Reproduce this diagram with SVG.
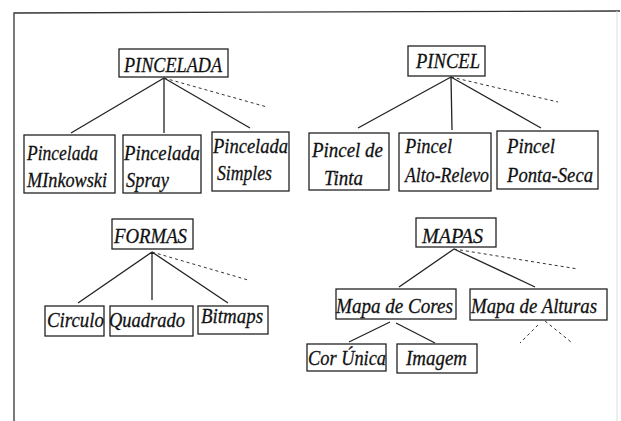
<svg xmlns="http://www.w3.org/2000/svg" width="621" height="421" viewBox="0 0 621 421">
<style>
.bg{fill:#fff}
.frame{fill:none;stroke:#333;stroke-width:1.3}
.frame2{fill:none;stroke:#ddd;stroke-width:1}
.box{fill:#fff;stroke:#222;stroke-width:1.3}
.t{font-family:"Times New Roman","Liberation Serif",Tinos,"DejaVu Serif",serif;font-style:italic;font-size:22px;fill:#111;stroke:#111;stroke-width:0.3}
.edge{stroke:#222;stroke-width:1.3;fill:none}
.dash{stroke:#333;stroke-width:1;stroke-dasharray:3 3;fill:none}
</style>
<rect class="bg" width="621" height="421"/>
<g id="frame">
<path class="frame" d="M14,421 L14,13 L620,11"/>
<path class="frame2" d="M617,11 L617,421"/>
</g>
<g id="connectors">
<path class="edge" d="M164,78 L71,133 M164,78 L164,133 M164,78 L250,128"/>
<path class="dash" d="M164,78 L267,107"/>
<path class="edge" d="M451,77 L358,128 M451,77 L452,130 M451,77 L541,128"/>
<path class="dash" d="M451,77 L558,102"/>
<path class="edge" d="M152,252 L78,303 M152,252 L152,300 M152,252 L228,303"/>
<path class="dash" d="M152,252 L248,280"/>
<path class="edge" d="M454,249 L399,287 M454,249 L535,287"/>
<path class="dash" d="M454,249 L578,269"/>
<path class="edge" d="M390,322 L349,342 M396,323 L435,343"/>
<path class="dash" d="M538,325 L520,343 M545,321 L571,342"/>
</g>
<g id="pincelada"><rect class="box" x="119" y="49" width="109" height="28"/><text class="t" x="124" y="72" textLength="98" lengthAdjust="spacingAndGlyphs">PINCELADA</text></g>
<g id="pincelada-minkowski"><rect class="box" x="24" y="135" width="91" height="58"/><text class="t" x="27" y="160" textLength="71" lengthAdjust="spacingAndGlyphs">Pincelada</text><text class="t" x="27" y="187" textLength="80" lengthAdjust="spacingAndGlyphs">MInkowski</text></g>
<g id="pincelada-spray"><rect class="box" x="123" y="135" width="78" height="58"/><text class="t" x="124" y="160" textLength="76" lengthAdjust="spacingAndGlyphs">Pincelada</text><text class="t" x="126" y="187" textLength="43" lengthAdjust="spacingAndGlyphs">Spray</text></g>
<g id="pincelada-simples"><rect class="box" x="212" y="132" width="77" height="59"/><text class="t" x="213" y="153" textLength="75" lengthAdjust="spacingAndGlyphs">Pincelada</text><text class="t" x="217" y="180" textLength="55" lengthAdjust="spacingAndGlyphs">Simples</text></g>
<g id="pincel"><rect class="box" x="408" y="46" width="77" height="30"/><text class="t" x="416" y="68" textLength="64" lengthAdjust="spacingAndGlyphs">PINCEL</text></g>
<g id="pincel-tinta"><rect class="box" x="309" y="133" width="80" height="57"/><text class="t" x="312" y="157" textLength="71" lengthAdjust="spacingAndGlyphs">Pincel de</text><text class="t" x="324" y="185" textLength="39" lengthAdjust="spacingAndGlyphs">Tinta</text></g>
<g id="pincel-alto-relevo"><rect class="box" x="399" y="133" width="92" height="58"/><text class="t" x="405" y="153" textLength="47" lengthAdjust="spacingAndGlyphs">Pincel</text><text class="t" x="405" y="182" textLength="84" lengthAdjust="spacingAndGlyphs">Alto-Relevo</text></g>
<g id="pincel-ponta-seca"><rect class="box" x="497" y="131" width="101" height="58"/><text class="t" x="507" y="153" textLength="48" lengthAdjust="spacingAndGlyphs">Pincel</text><text class="t" x="507" y="182" textLength="86" lengthAdjust="spacingAndGlyphs">Ponta-Seca</text></g>
<g id="formas"><rect class="box" x="112" y="219" width="81" height="30"/><text class="t" x="114" y="243" textLength="73" lengthAdjust="spacingAndGlyphs">FORMAS</text></g>
<g id="circulo"><rect class="box" x="45" y="306" width="59" height="30"/><text class="t" x="47" y="327" textLength="57" lengthAdjust="spacingAndGlyphs">Circulo</text></g>
<g id="quadrado"><rect class="box" x="110" y="306" width="83" height="30"/><text class="t" x="109" y="327" textLength="76" lengthAdjust="spacingAndGlyphs">Quadrado</text></g>
<g id="bitmaps"><rect class="box" x="198" y="306" width="70" height="28"/><text class="t" x="201" y="323" textLength="62" lengthAdjust="spacingAndGlyphs">Bitmaps</text></g>
<g id="mapas"><rect class="box" x="416" y="218" width="80" height="29"/><text class="t" x="422" y="243" textLength="61" lengthAdjust="spacingAndGlyphs">MAPAS</text></g>
<g id="mapa-de-cores"><rect class="box" x="336" y="289" width="120" height="30"/><text class="t" x="336" y="313" textLength="117" lengthAdjust="spacingAndGlyphs">Mapa de Cores</text></g>
<g id="mapa-de-alturas"><rect class="box" x="470" y="289" width="137" height="31"/><text class="t" x="471" y="313" textLength="126" lengthAdjust="spacingAndGlyphs">Mapa de Alturas</text></g>
<g id="cor-unica"><rect class="box" x="307" y="344" width="79" height="27"/><text class="t" x="308" y="365" textLength="78" lengthAdjust="spacingAndGlyphs">Cor Única</text></g>
<g id="imagem"><rect class="box" x="397" y="344" width="80" height="29"/><text class="t" x="406" y="365" textLength="61" lengthAdjust="spacingAndGlyphs">Imagem</text></g>
</svg>
